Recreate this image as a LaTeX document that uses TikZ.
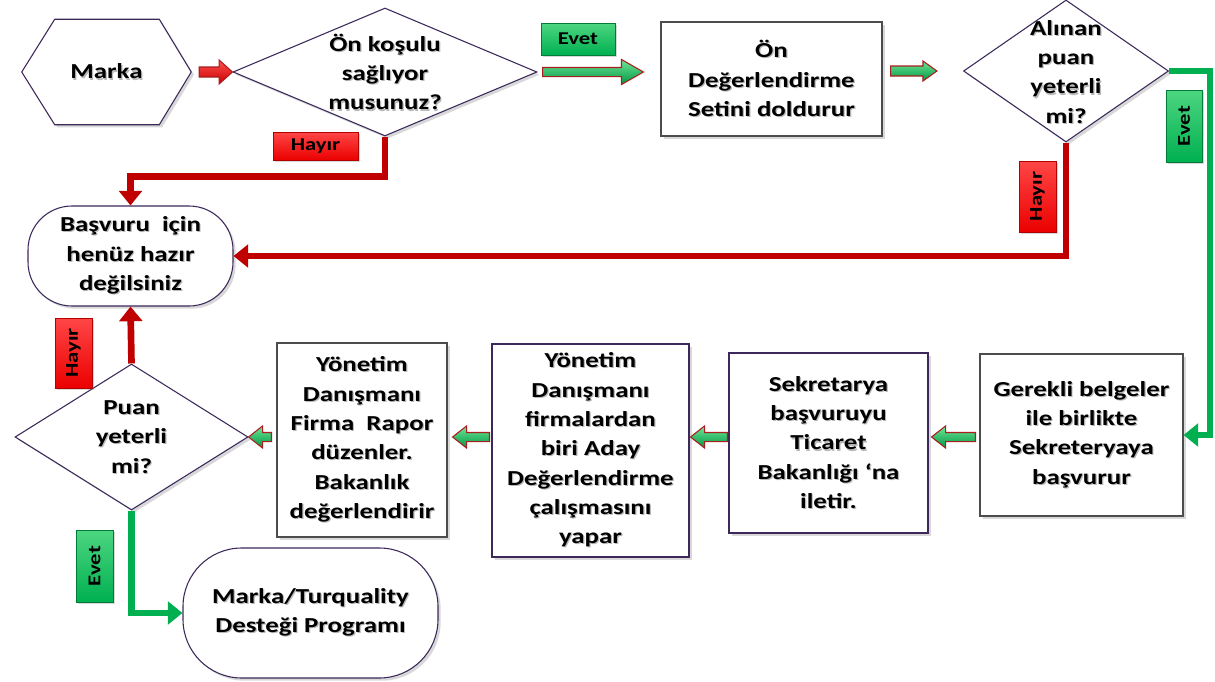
\documentclass[tikz,border=0pt]{standalone}
\usepackage{fontspec}
\setmainfont{Carlito}[FakeStretch=1.26]
\usetikzlibrary{calc,shapes.geometric,shadows,arrows.meta}
\definecolor{lred}{RGB}{192,0,0}
\definecolor{lgreen}{RGB}{0,176,80}
\definecolor{lgreenL}{RGB}{110,230,150}
\definecolor{bord}{RGB}{60,40,90}
\definecolor{rbord}{RGB}{170,30,30}
\pgfdeclareradialshading{bev}{\pgfpoint{0bp}{0bp}}{color(0bp)=(white); color(36bp)=(white); color(50bp)=(black!16); color(75bp)=(black!22)}
\newcommand\sh[1]{\rlap{\kern0.9pt\raisebox{-0.9pt}{\color{black!28}#1}}#1}
\newcommand\blockarr[6]{%
  \coordinate (bs) at #2;
  \coordinate (be) at #3;
  \coordinate (bn) at ($(be)!#6!(bs)$);
  \path[#1] ($(bs)!#4!90:(be)$) -- ($(bn)!#4!90:(be)$) -- ($(bn)!#5!90:(be)$) -- (be)
    -- ($(bn)!#5!-90:(be)$) -- ($(bn)!#4!-90:(be)$) -- ($(bs)!#4!-90:(be)$) -- cycle;
}
\tikzset{
  txt/.style={align=center, font=\fontsize{16}{22}\selectfont\bfseries, inner sep=0pt},
  shd/.style={drop shadow={opacity=0.3, shadow xshift=2pt, shadow yshift=-2pt}},
  box/.style={rectangle, draw=black!70, line width=0.8pt, shading=bev, shd, inner sep=0pt,
    align=center, font=\fontsize{16}{22}\selectfont\bfseries},
  rbox/.style={box, draw=bord},
  dia/.style={diamond, draw=bord, line width=0.8pt, shading=bev, shd, inner sep=0pt},
  hexa/.style={draw=bord, line width=0.8pt, shading=bev, shd},
  lab/.style={rectangle, inner sep=0pt, line width=0.5pt, font=\fontsize{13.5}{15}\selectfont\bfseries,
    drop shadow={opacity=0.3, shadow xshift=1.5pt, shadow yshift=-1.5pt}},
  evet/.style={lab, draw=lgreen!70!black, top color=lgreenL!70!lgreen, bottom color=lgreen},
  hayir/.style={lab, draw=red!70!black, top color={rgb,255:red,255;green,70;blue,70}, bottom color={rgb,255:red,235;green,0;blue,0}},
  rl/.style={draw=lred, line width=5pt, -{Triangle[length=11pt,width=17pt]}},
  gl/.style={draw=lgreen, line width=5pt, -{Triangle[length=11pt,width=17pt]}},
  gba/.style={draw=rbord, line width=0.8pt, line join=miter, top color=lgreenL, bottom color=lgreen!85!black},
  rba/.style={draw=rbord, line width=0.8pt, line join=miter, top color={rgb,255:red,255;green,80;blue,80}, bottom color={rgb,255:red,200;green,0;blue,0}}
}
\begin{document}
\begin{tikzpicture}[x=0.75pt,y=-0.75pt]
\useasboundingbox (0,0) rectangle (1215,682);
\fill[white] (0,0) rectangle (1215,682);

% Marka hexagon
\node[inner sep=0pt, minimum width=126.75pt, minimum height=78.75pt] (marka) at (106.5,72) {};
\path[hexa] (marka.west) -- ($(marka.north west)+(33,0)$) -- ($(marka.north east)+(-32,0)$) -- (marka.east)
  -- ($(marka.south east)+(-32,0)$) -- ($(marka.south west)+(33,0)$) -- cycle;
\node[txt] (markat) at (marka) {\sh{Marka}};

% diamonds
\node[dia, minimum width=228pt, minimum height=96pt] (d1) at (385,72) {};
\node[txt] (d1t) at (385,72.5) {\sh{Ön koşulu}\\\sh{sağlıyor}\\\sh{musunuz?}};

\node[dia, minimum width=153.75pt, minimum height=106.5pt] (d2) at (1066,71) {};
\node[txt] (d2t) at (1066,72.5) {\sh{Alınan}\\\sh{puan}\\\sh{yeterli}\\\sh{mi?}};

\node[dia, minimum width=174.75pt, minimum height=109.5pt] (d3) at (131.5,437) {};
\node[txt] (d3t) at (131.5,437.5) {\sh{Puan}\\\sh{yeterli}\\\sh{mi?}};

% boxes
\node[box, minimum width=165.75pt, minimum height=85.5pt] (box1) at (771.5,79)
  {\sh{Ön}\\\sh{Değerlendirme}\\\sh{Setini doldurur}};
\node[box, rounded corners=33pt, draw=bord, minimum width=153.75pt, minimum height=75pt] (basvuru) at (130.5,256)
  {\sh{Başvuru~~için}\\\sh{henüz hazır}\\\sh{değilsiniz}};
\node[box, minimum width=127.5pt, minimum height=145.5pt] (firma) at (362,440)
  {\sh{Yönetim}\\\sh{Danışmanı}\\\sh{Firma~~Rapor}\\\sh{düzenler.}\\\sh{Bakanlık}\\\sh{değerlendirir}};
\node[rbox, minimum width=147.75pt, minimum height=159.75pt] (yon) at (590.5,450.5)
  {\sh{Yönetim}\\\sh{Danışmanı}\\\sh{firmalardan}\\\sh{biri Aday}\\\sh{Değerlendirme}\\\sh{çalışmasını}\\\sh{yapar}};
\node[rbox, minimum width=149.25pt, minimum height=135pt] (sek) at (828.5,443)
  {\sh{Sekretarya}\\\sh{başvuruyu}\\\sh{Ticaret}\\\sh{Bakanlığı ‘na}\\\sh{iletir.}};
\node[box, minimum width=152.25pt, minimum height=121.5pt] (ger) at (1081.5,435)
  {\sh{Gerekli belgeler}\\\sh{ile birlikte}\\\sh{Sekreteryaya}\\\sh{başvurur}};
\node[box, rounded corners=44pt, draw=bord, minimum width=191.25pt, minimum height=97.5pt] (mt) at (310.5,613)
  {\sh{Marka/Turquality}\\\sh{Desteği Programı}};

% labels
\node[evet, minimum width=55.5pt, minimum height=24pt] (evet1) at (578,39) {Evet};
\node[hayir, minimum width=63.75pt, minimum height=21pt] (hayir1) at (315.5,146) {Hayır};
\node[evet, rotate=90, minimum width=54pt, minimum height=27pt] (evet2) at (1184,126) {Evet};
\node[hayir, rotate=90, minimum width=53.25pt, minimum height=27.75pt] (hayir2) at (1037.5,196.5) {Hayır};
\node[hayir, rotate=90, minimum width=52.5pt, minimum height=27.75pt] (hayir3) at (73.5,353) {Hayır};
\node[evet, rotate=90, minimum width=54pt, minimum height=27.75pt] (evet3) at (94.5,566) {Evet};

% connectors
\draw[rl] (d1.south) -- ++(0,40) -| (basvuru.north);
\draw[rl] (d2.south) |- (basvuru.east);
\draw[rl] (d3.north) -- (basvuru.south);
\draw[gl] (d2.east) -- ++(41,0) |- (ger.east);
\draw[gl] (d3.south) |- (mt.west);

% block arrows
\blockarr{rba}{($(marka.east)+(8,0)$)}{(d1.west)}{3.75pt}{9pt}{10pt}
\blockarr{gba}{($(d1.east)+(5,0)$)}{($(box1.west |- d1.east)+(-17,0)$)}{3.4pt}{9.4pt}{16.5pt}
\blockarr{gba}{($(box1.east |- d2.west)+(8,0)$)}{($(d2.west)+(-26,0)$)}{3.75pt}{7.5pt}{10.5pt}
\blockarr{gba}{($(ger.west |- d3.east)+(-4,0)$)}{($(sek.east |- d3.east)+(3,0)$)}{3.4pt}{8.25pt}{10.5pt}
\blockarr{gba}{($(sek.west |- d3.east)+(-1,0)$)}{($(yon.east |- d3.east)+(1,0)$)}{3.4pt}{8.25pt}{10.5pt}
\blockarr{gba}{($(yon.west |- d3.east)+(-2,0)$)}{($(firma.east |- d3.east)+(5,0)$)}{3.4pt}{8.25pt}{10.5pt}
\blockarr{gba}{($(firma.west |- d3.east)+(-5,0)$)}{(d3.east)}{3.4pt}{8.25pt}{10.5pt}
\end{tikzpicture}
\end{document}
